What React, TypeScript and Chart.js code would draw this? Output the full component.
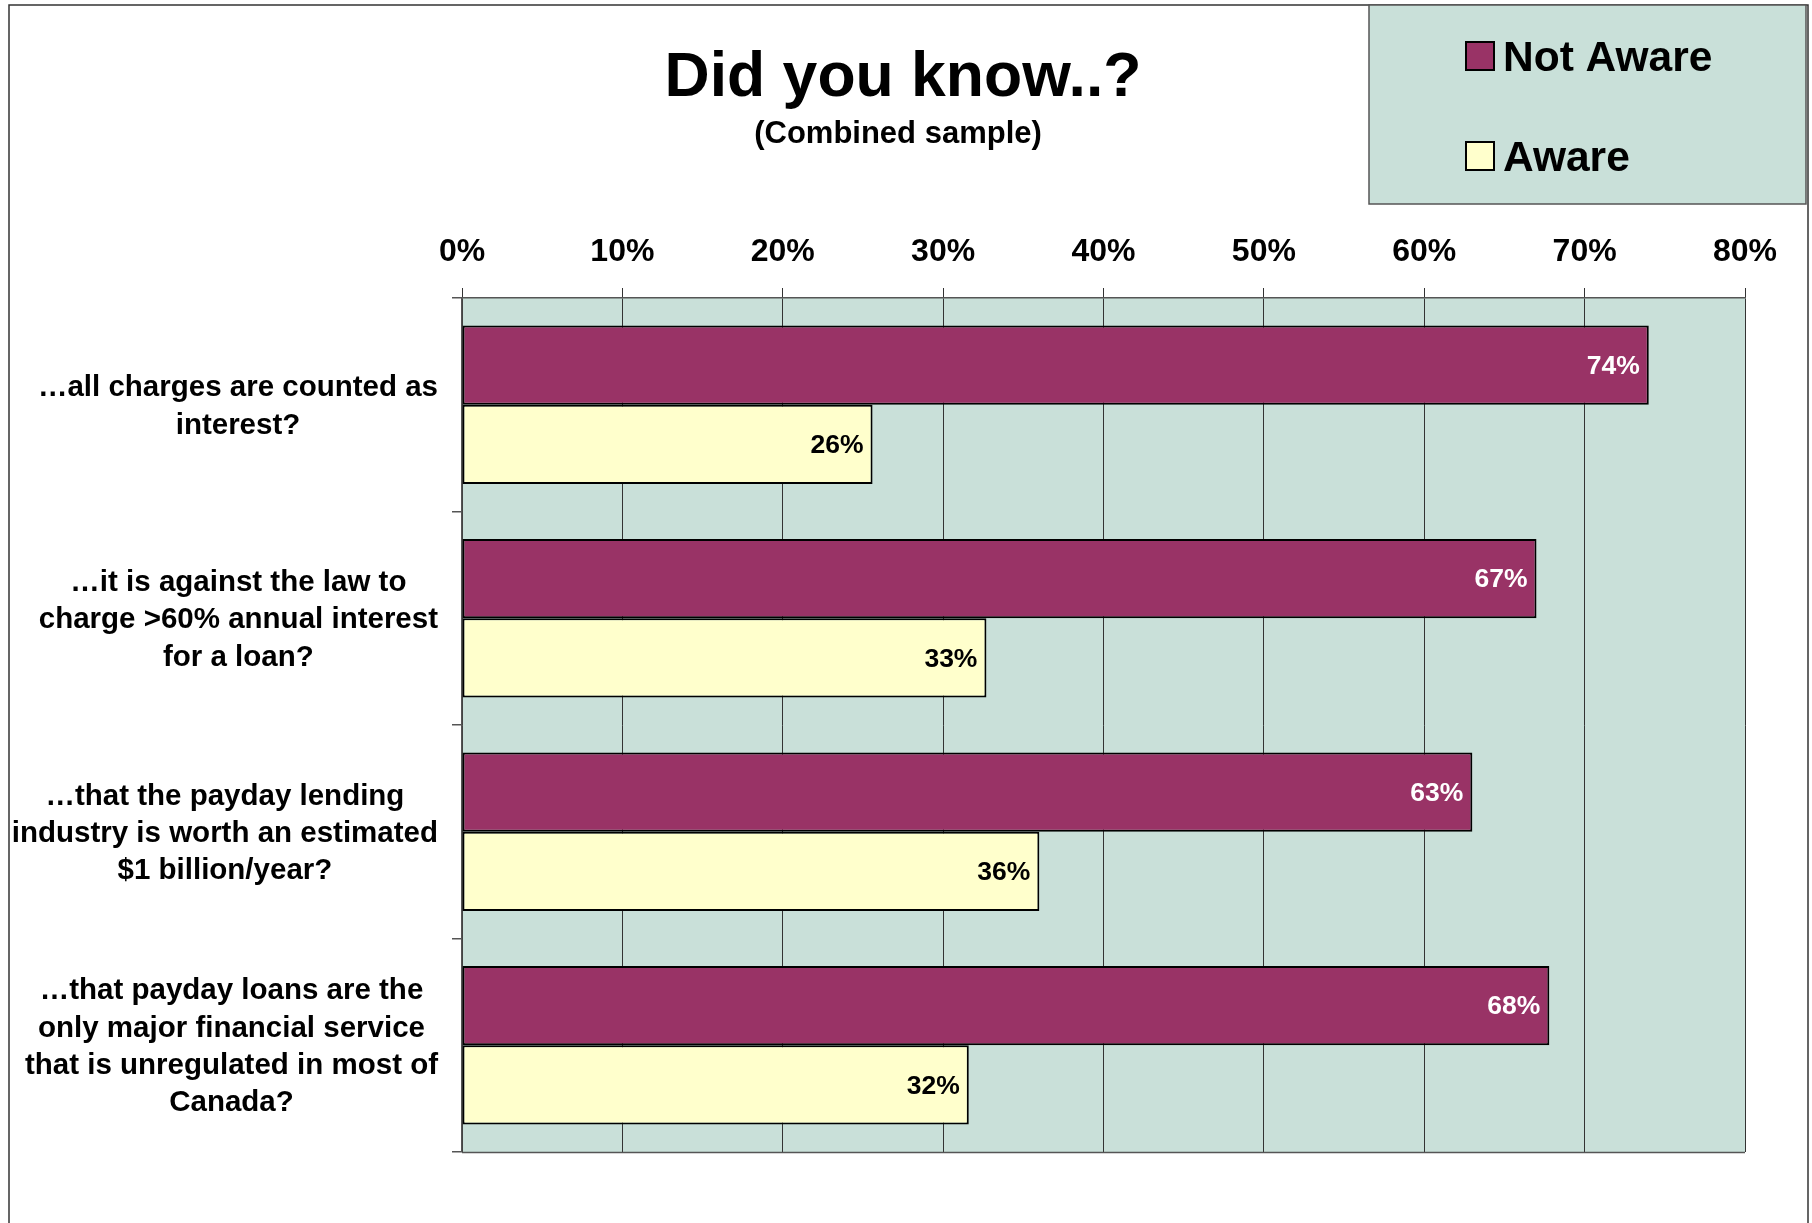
import React, { useEffect, useRef } from 'react';
import { Chart, registerables } from 'chart.js';

Chart.register(...registerables);

// ---- data ----
const chartTitle = 'Did you know..?';
const chartSubtitle = '(Combined sample)';
const categories: string[][] = [
  ['…all charges are counted as', 'interest?'],
  ['…it is against the law to', 'charge >60% annual interest', 'for a loan?'],
  ['…that the payday lending', 'industry is worth an estimated', '$1 billion/year?'],
  ['…that payday loans are the', 'only major financial service', 'that is unregulated in most of', 'Canada?'],
];
const seriesNames = ['Not Aware', 'Aware'];
const notAwareValues = [74, 67, 63, 67.8];
const awareValues = [25.6, 32.7, 36, 31.6];
const xTickValues = [0, 10, 20, 30, 40, 50, 60, 70, 80];

// ---- styles ----
const FONT = '"Liberation Sans", Arial, sans-serif';
const PLUM = '#993366';
const CREAM = '#FFFFCC';
const PLOT_BG = '#C9E0D9';
const W = 1812;
const H = 1223;

const decorPlugin = {
  id: 'decor',
  beforeDraw(chart: any) {
    const { ctx, chartArea } = chart;
    ctx.save();
    ctx.fillStyle = '#ffffff';
    ctx.fillRect(0, 0, chart.width, chart.height);
    ctx.fillStyle = PLOT_BG;
    ctx.fillRect(chartArea.left, chartArea.top, chartArea.right - chartArea.left, chartArea.bottom - chartArea.top);
    ctx.restore();
  },
  afterDatasetsDraw(chart: any) {
    const { ctx, chartArea } = chart;
    ctx.save();
    // plot-area bottom border
    ctx.strokeStyle = '#555555';
    ctx.lineWidth = 1.5;
    ctx.beginPath();
    ctx.moveTo(chartArea.left, chartArea.bottom + 0.5);
    ctx.lineTo(chartArea.right, chartArea.bottom + 0.5);
    ctx.stroke();

    // value labels inside bar ends
    ctx.font = `bold 26.5px ${FONT}`;
    ctx.textAlign = 'right';
    ctx.textBaseline = 'middle';
    chart.data.datasets.forEach((ds: any, di: number) => {
      const meta = chart.getDatasetMeta(di);
      meta.data.forEach((bar: any, i: number) => {
        const v = ds.data[i];
        ctx.fillStyle = di === 0 ? '#ffffff' : '#000000';
        ctx.fillText(Math.round(v) + '%', bar.x - 9, bar.y + 1.5);
      });
    });

    // category labels, each block centred on its widest line
    const yScale = chart.scales.y;
    ctx.font = `bold 29.5px ${FONT}`;
    ctx.fillStyle = '#000000';
    ctx.textAlign = 'center';
    const lh = 37.3;
    const rightEdge = chartArea.left - 24;
    categories.forEach((lines, i) => {
      const cy = yScale.getPixelForValue(i) + 2;
      const widest = Math.max(...lines.map((l) => ctx.measureText(l).width));
      const cx = rightEdge - widest / 2;
      lines.forEach((l, j) => {
        ctx.fillText(l, cx, cy + (j - (lines.length - 1) / 2) * lh);
      });
    });
    ctx.restore();
  },
  afterDraw(chart: any) {
    const { ctx } = chart;
    ctx.save();
    // outer frame
    ctx.strokeStyle = '#333333';
    ctx.lineWidth = 1.5;
    ctx.beginPath();
    ctx.moveTo(9, H + 10);
    ctx.lineTo(9, 5);
    ctx.lineTo(1808, 5);
    ctx.lineTo(1808, H + 10);
    ctx.stroke();

    // title
    ctx.fillStyle = '#000000';
    ctx.textAlign = 'center';
    ctx.textBaseline = 'alphabetic';
    ctx.font = `bold 62.5px ${FONT}`;
    ctx.fillText(chartTitle, 903, 96);
    ctx.font = `bold 31px ${FONT}`;
    ctx.fillText(chartSubtitle, 898, 143);

    // legend box
    ctx.fillStyle = PLOT_BG;
    ctx.fillRect(1369, 5, 437, 199);
    ctx.strokeStyle = '#555555';
    ctx.lineWidth = 1.5;
    ctx.strokeRect(1369, 5, 437, 199);
    const colors = [PLUM, CREAM];
    seriesNames.forEach((name, i) => {
      const top = 42 + i * 100;
      ctx.fillStyle = colors[i];
      ctx.fillRect(1466, top, 28, 28);
      ctx.strokeStyle = '#000000';
      ctx.lineWidth = 2;
      ctx.strokeRect(1466, top, 28, 28);
      ctx.fillStyle = '#000000';
      ctx.font = `bold 42.5px ${FONT}`;
      ctx.textAlign = 'left';
      ctx.fillText(name, 1503, 71 + i * 100);
    });
    ctx.restore();
  },
};

export default function App() {
  const canvasRef = useRef<HTMLCanvasElement | null>(null);

  useEffect(() => {
    const canvas = canvasRef.current;
    if (!canvas) return;
    const chart = new Chart(canvas, {
      type: 'bar',
      data: {
        labels: categories.map((c) => c.join(' ')),
        datasets: [
          {
            label: seriesNames[0],
            data: notAwareValues,
            backgroundColor: PLUM,
            borderColor: '#000000',
            borderWidth: 2,
            borderSkipped: false,
            barPercentage: 1,
            categoryPercentage: 0.743,
          },
          {
            label: seriesNames[1],
            data: awareValues,
            backgroundColor: CREAM,
            borderColor: '#000000',
            borderWidth: 2,
            borderSkipped: false,
            barPercentage: 1,
            categoryPercentage: 0.743,
          },
        ],
      },
      options: {
        indexAxis: 'y',
        responsive: false,
        animation: false,
        devicePixelRatio: 1,
        layout: { padding: { left: 0, top: 228, right: 67, bottom: 71 } },
        plugins: {
          legend: { display: false },
          title: { display: false },
          tooltip: { enabled: false },
        },
        scales: {
          x: {
            position: 'top',
            min: 0,
            max: 80,
            afterBuildTicks: (scale: any) => {
              scale.ticks = xTickValues.map((v) => ({ value: v }));
            },
            afterFit: (scale: any) => {
              scale.height = 70;
            },
            ticks: {
              color: '#000000',
              font: { family: FONT, size: 32, weight: 'bold' },
              padding: 17,
              maxRotation: 0,
              autoSkip: false,
              callback: (v: any) => v + '%',
            },
            grid: {
              color: '#333333',
              lineWidth: 1,
              tickLength: 10,
              drawOnChartArea: true,
              drawTicks: true,
            },
            border: { display: true, color: '#555555', width: 1.5 },
          },
          y: {
            afterFit: (scale: any) => {
              scale.width = 462;
            },
            ticks: { display: false },
            grid: {
              offset: true,
              drawOnChartArea: false,
              drawTicks: true,
              tickLength: 10,
              color: '#555555',
              lineWidth: 1.5,
            },
            border: { display: true, color: '#555555', width: 1.5 },
          },
        },
      },
      plugins: [decorPlugin],
    } as any);
    return () => chart.destroy();
  }, []);

  return (
    <div style={{ position: 'fixed', left: 0, top: 0, width: W, height: H, background: '#ffffff' }}>
      <canvas ref={canvasRef} width={W} height={H} style={{ display: 'block', width: W, height: H }} />
    </div>
  );
}
